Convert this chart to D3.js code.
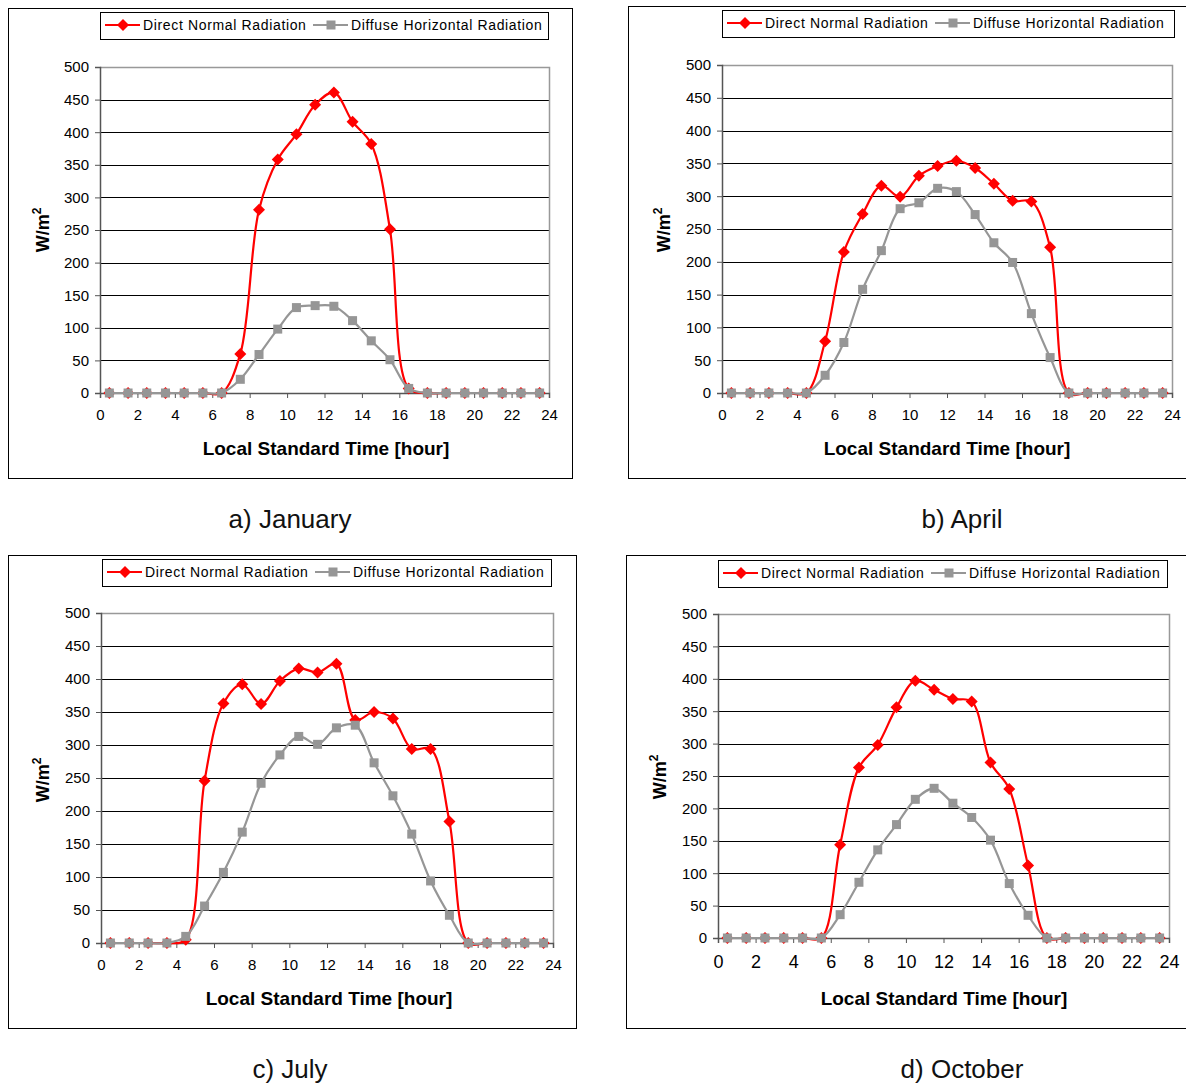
<!DOCTYPE html>
<html>
<head>
<meta charset="utf-8">
<script src="https://cdn.jsdelivr.net/npm/d3@7"></script>
<style>
  html, body { margin: 0; padding: 0; background: #fff; }
  svg { display: block; font-family: "Liberation Sans", Arial, sans-serif; }
</style>
</head>
<body>
<div id="chart"></div>
<script>
// hour of day (bin centres)
const hours = [0.5, 1.5, 2.5, 3.5, 4.5, 5.5, 6.5, 7.5, 8.5, 9.5, 10.5, 11.5,
  12.5, 13.5, 14.5, 15.5, 16.5, 17.5, 18.5, 19.5, 20.5, 21.5, 22.5, 23.5];

// W/m2 values
const janDirect  = [0, 0, 0, 0, 0, 0, 0, 60, 281, 358, 397, 442, 461, 416, 382, 251, 7, 0, 0, 0, 0, 0, 0, 0];
const janDiffuse = [0, 0, 0, 0, 0, 0, 0, 21, 59, 98, 131, 134, 133, 111, 80, 51, 7, 0, 0, 0, 0, 0, 0, 0];
const aprDirect  = [0, 0, 0, 0, 0, 79, 215, 273, 316, 299, 331, 346, 354, 343, 319, 293, 292, 222, 0, 0, 0, 0, 0, 0];
const aprDiffuse = [0, 0, 0, 0, 0, 27, 77, 158, 217, 281, 290, 312, 307, 272, 229, 199, 121, 54, 0, 0, 0, 0, 0, 0];
const julDirect  = [0, 0, 0, 0, 5, 246, 363, 392, 362, 397, 416, 410, 423, 338, 350, 340, 294, 294, 184, 0, 0, 0, 0, 0];
const julDiffuse = [0, 0, 0, 0, 10, 56, 107, 168, 242, 285, 313, 301, 326, 330, 273, 223, 165, 94, 42, 0, 0, 0, 0, 0];
const octDirect  = [0, 0, 0, 0, 0, 0, 144, 263, 298, 356, 397, 383, 369, 365, 271, 230, 112, 0, 0, 0, 0, 0, 0, 0];
const octDiffuse = [0, 0, 0, 0, 0, 0, 36, 86, 136, 175, 214, 231, 208, 186, 151, 84, 35, 0, 0, 0, 0, 0, 0, 0];

const captions = ['a) January', 'b) April', 'c) July', 'd) October'];
const xTicks = [0, 2, 4, 6, 8, 10, 12, 14, 16, 18, 20, 22, 24];
const yTicks = [0, 50, 100, 150, 200, 250, 300, 350, 400, 450, 500];
const seriesNames = ['Direct Normal Radiation', 'Diffuse Horizontal Radiation'];

const RED = '#ff0000';
const GREY = '#969696';

// panel layout (pixels)
const panels = [
  { direct: janDirect, diffuse: janDiffuse, caption: captions[0],
    box: [8, 8, 564, 470], plot: [100, 549, 67, 393], legend: [100, 12, 448, 27],
    yLab: [42, 230], xTitle: [326, 455], cap: [290, 528], xFont: 15 },
  { direct: aprDirect, diffuse: aprDiffuse, caption: captions[1],
    box: [628, 6, 570, 472], plot: [722, 1172, 65, 393], legend: [722, 10, 452, 27],
    yLab: [663, 230], xTitle: [947, 455], cap: [962, 528], xFont: 15 },
  { direct: julDirect, diffuse: julDiffuse, caption: captions[2],
    box: [8, 555, 568, 473], plot: [101, 553, 613, 943], legend: [102, 559, 449, 27],
    yLab: [42, 780], xTitle: [329, 1005], cap: [290, 1078], xFont: 15 },
  { direct: octDirect, diffuse: octDiffuse, caption: captions[3],
    box: [626, 555, 570, 473], plot: [718, 1169, 614, 938], legend: [718, 560, 449, 27],
    yLab: [659, 777], xTitle: [944, 1005], cap: [962, 1078], xFont: 18 }
];

const svg = d3.select('#chart').append('svg')
  .attr('width', 1186)
  .attr('height', 1084);

function diamond(g, x, y, r) {
  g.append('path')
    .attr('d', `M${x},${y - r}L${x + r},${y}L${x},${y + r}L${x - r},${y}Z`)
    .attr('fill', RED);
}

function square(g, x, y, s) {
  g.append('rect')
    .attr('x', x - s / 2).attr('y', y - s / 2)
    .attr('width', s).attr('height', s)
    .attr('fill', GREY);
}

panels.forEach(p => {
  const g = svg.append('g');
  const [l, r, t, b] = p.plot;

  // outer frame
  g.append('rect')
    .attr('x', p.box[0] + 0.5).attr('y', p.box[1] + 0.5)
    .attr('width', p.box[2]).attr('height', p.box[3])
    .attr('fill', 'none').attr('stroke', '#000').attr('stroke-width', 1);

  const x = d3.scaleLinear().domain([0, 24]).range([l, r]);
  const y = d3.scaleLinear().domain([0, 500]).range([b, t]);

  // horizontal grid
  g.append('g').selectAll('line')
    .data(yTicks.filter(v => v > 0 && v < 500))
    .join('line')
    .attr('x1', l).attr('x2', r)
    .attr('y1', d => Math.round(y(d)) + 0.5).attr('y2', d => Math.round(y(d)) + 0.5)
    .attr('stroke', '#000').attr('stroke-width', 1);

  // plot area border (top / right)
  g.append('path')
    .attr('d', `M${l},${Math.round(t) + 0.5}H${Math.round(r) + 0.5}V${b}`)
    .attr('fill', 'none').attr('stroke', '#999').attr('stroke-width', 1.5);

  // y axis
  const yAxis = g.append('g')
    .attr('transform', `translate(${l},0)`)
    .call(d3.axisLeft(y).tickValues(yTicks).tickSize(5).tickPadding(6));
  yAxis.select('.domain').attr('stroke', '#555').attr('stroke-width', 1.5);
  yAxis.selectAll('.tick line').attr('stroke', '#555');
  yAxis.selectAll('text').attr('font-size', 15).attr('fill', '#000')
    .attr('font-family', '"Liberation Sans", Arial, sans-serif');

  // x axis
  const xAxis = g.append('g')
    .attr('transform', `translate(0,${b})`)
    .call(d3.axisBottom(x).tickValues(xTicks).tickSize(5).tickPadding(p.xFont > 15 ? 12 : 11));
  xAxis.select('.domain').attr('stroke', '#555').attr('stroke-width', 1.5);
  xAxis.selectAll('.tick line').attr('stroke', '#555');
  xAxis.selectAll('text').attr('font-size', p.xFont).attr('fill', '#000')
    .attr('font-family', '"Liberation Sans", Arial, sans-serif');

  // series lines (smoothed like the spreadsheet original)
  const line = d3.line()
    .x((d, i) => x(hours[i]))
    .y(d => y(d))
    .curve(d3.curveCatmullRom.alpha(0.5));

  g.append('path')
    .datum(p.direct)
    .attr('d', line)
    .attr('fill', 'none').attr('stroke', RED).attr('stroke-width', 2.2);
  p.direct.forEach((v, i) => diamond(g, x(hours[i]), y(v), 6));

  g.append('path')
    .datum(p.diffuse)
    .attr('d', line)
    .attr('fill', 'none').attr('stroke', GREY).attr('stroke-width', 2.2);
  p.diffuse.forEach((v, i) => square(g, x(hours[i]), y(v), 9));

  // legend
  const [lx, ly, lw, lh] = p.legend;
  const lg = g.append('g');
  lg.append('rect')
    .attr('x', lx + 0.5).attr('y', ly + 0.5).attr('width', lw).attr('height', lh)
    .attr('fill', '#fff').attr('stroke', '#000');
  const cy = ly + lh / 2 - 0.5;
  lg.append('line').attr('x1', lx + 5).attr('x2', lx + 40).attr('y1', cy).attr('y2', cy)
    .attr('stroke', RED).attr('stroke-width', 2.2);
  diamond(lg, lx + 23, cy, 6);
  lg.append('text').attr('x', lx + 43).attr('y', cy + 5)
    .attr('font-size', 14).attr('letter-spacing', 0.65)
    .text(seriesNames[0]);
  lg.append('line').attr('x1', lx + 213).attr('x2', lx + 248).attr('y1', cy).attr('y2', cy)
    .attr('stroke', GREY).attr('stroke-width', 2.2);
  square(lg, lx + 231, cy, 9);
  lg.append('text').attr('x', lx + 251).attr('y', cy + 5)
    .attr('font-size', 14).attr('letter-spacing', 0.65)
    .text(seriesNames[1]);

  // axis titles
  const yl = g.append('text')
    .attr('transform', `translate(${p.yLab[0] + 7},${p.yLab[1]}) rotate(-90)`)
    .attr('text-anchor', 'middle')
    .attr('font-size', 18).attr('font-weight', 'bold');
  yl.append('tspan').text('W/m');
  yl.append('tspan').attr('dy', -8).attr('font-size', 12).text('2');

  g.append('text')
    .attr('x', p.xTitle[0]).attr('y', p.xTitle[1])
    .attr('text-anchor', 'middle')
    .attr('font-size', 19).attr('font-weight', 'bold')
    .text('Local Standard Time [hour]');

  // caption under the panel
  svg.append('text')
    .attr('x', p.cap[0]).attr('y', p.cap[1])
    .attr('text-anchor', 'middle')
    .attr('font-size', 26)
    .attr('fill', '#111')
    .text(p.caption);
});
</script>
</body>
</html>
